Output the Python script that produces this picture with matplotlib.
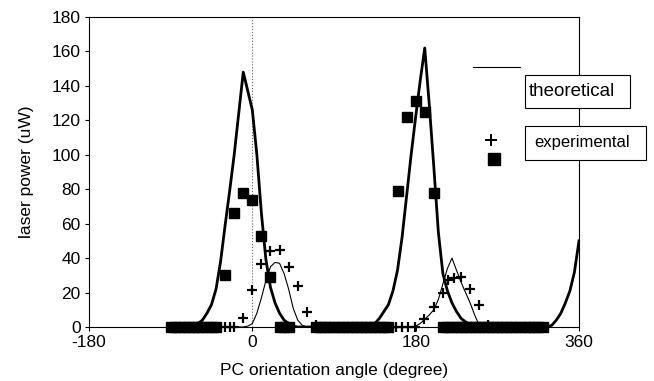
import matplotlib.pyplot as plt
from matplotlib.patches import Rectangle
from matplotlib.lines import Line2D

plt.rcParams['font.family'] = ['Liberation Sans', 'DejaVu Sans']
plt.rcParams['axes.unicode_minus'] = False

# theoretical curves (sampled every 5 degrees)
thick_x = list(range(-90, 365, 5))
thick_y = [0, 0, 0, 0, 0, 0.5, 2, 4, 8, 13, 22, 38, 59, 79, 100, 124, 148, 137, 126,
           100, 66, 39, 23, 14, 8, 4, 2, 0.5,
           0, 0, 0, 0, 0, 0, 0, 0, 0, 0, 0, 0, 0, 0, 0, 0,
           1, 2, 5, 9, 13, 21, 33, 52, 76, 100, 122, 143, 162, 129, 93, 55, 31, 21,
           14, 9, 5, 3, 1.5,
           0, 0, 0, 0, 0, 0, 0, 0, 0, 0, 0, 0, 0, 0, 0, 0, 0,
           1, 4, 8, 14, 21, 32, 50]

thin_x = list(range(-15, 260, 5))
thin_y = [0, 0, 0.5, 2, 8, 17, 27, 35, 37.5, 37, 31, 22, 11, 4, 1, 0,
          0, 0, 0, 0, 0, 0, 0, 0, 0, 0, 0, 0, 0, 0, 0, 0, 0, 0, 0, 0, 0, 0, 0,
          0.5, 2, 4.5, 7, 10, 16, 25, 34, 40, 33, 26, 20, 14, 7, 1, 0]

# experimental points
sq_x = (list(range(-90, -35, 5)) + [-30, -20, -10, 0, 10, 20, 30, 35, 40]
        + list(range(70, 155, 5)) + [160, 170, 180, 190, 200]
        + list(range(210, 325, 5)))
sq_y = ([0] * 11 + [30, 66, 78, 74, 53, 29, 0, 0, 0]
        + [0] * 17 + [79, 122, 131, 125, 78] + [0] * 23)

plus_x = [-30, -25, -20, -10, 0, 10, 20, 30, 40, 50, 60, 70,
          158, 165, 172, 179, 189, 200, 210, 216, 222, 230, 240, 250, 260]
plus_y = [0, 0, 0, 5, 21.5, 36.5, 44, 45, 35, 24, 8.5, 1,
          0, 0, 0, 0, 4.5, 11.5, 19.5, 27.5, 28.3, 29, 22, 12.8, 1]

W, H = 654, 381
fig = plt.figure(figsize=(W / 100, H / 100), dpi=100)
ax = fig.add_axes([89 / W, 1 - 327 / H, 490 / W, 310 / H])

ax.axvline(0, color='0.4', lw=0.8, ls=':', zorder=1)
ax.plot(sq_x, sq_y, ls='none', marker='s', ms=6.5, color='black', clip_on=False, zorder=3)
ax.plot(plus_x, plus_y, ls='none', marker='+', ms=7, mew=1.6, color='black', clip_on=False, zorder=4)
ax.plot(thick_x, thick_y, color='black', lw=2, zorder=2)
ax.plot(thin_x, thin_y, color='black', lw=0.8, zorder=2)

ax.set_xlim(-180, 360)
ax.set_ylim(0, 180)
ax.set_xticks([-180, 0, 180, 360])
ax.set_yticks(range(0, 181, 20))
ax.tick_params(direction='out', length=3, width=0.8, labelsize=12.5, pad=3)
for s in ax.spines.values():
    s.set_linewidth(0.8)
ax.set_xlabel('PC orientation angle (degree)', fontsize=12.5, labelpad=9)
ax.set_ylabel('laser power (uW)', fontsize=12.5, labelpad=13)


def fx(px):
    return px / W


def fy(py):
    return 1 - py / H


# legend drawn by hand
fig.add_artist(Line2D([fx(473), fx(520)], [fy(67), fy(67)], color='black', lw=0.8))
fig.add_artist(Rectangle((fx(525), fy(108)), fx(105), 33 / H, facecolor='white',
                         edgecolor='black', lw=0.8, zorder=5))
fig.text(fx(529), fy(91.5), 'theoretical', fontsize=13.5, va='center', ha='left', zorder=6)
fig.add_artist(Line2D([fx(491)], [fy(140)], marker='+', ms=9, mew=1.4, color='black'))
fig.add_artist(Line2D([fx(494)], [fy(159)], marker='s', ms=8, color='black'))
fig.add_artist(Rectangle((fx(525), fy(160)), fx(121), 34 / H, facecolor='white',
                         edgecolor='black', lw=0.8, zorder=5))
fig.text(fx(534), fy(142), 'experimental', fontsize=12, va='center', ha='left', zorder=6)

fig.savefig('out.png', dpi=100)
